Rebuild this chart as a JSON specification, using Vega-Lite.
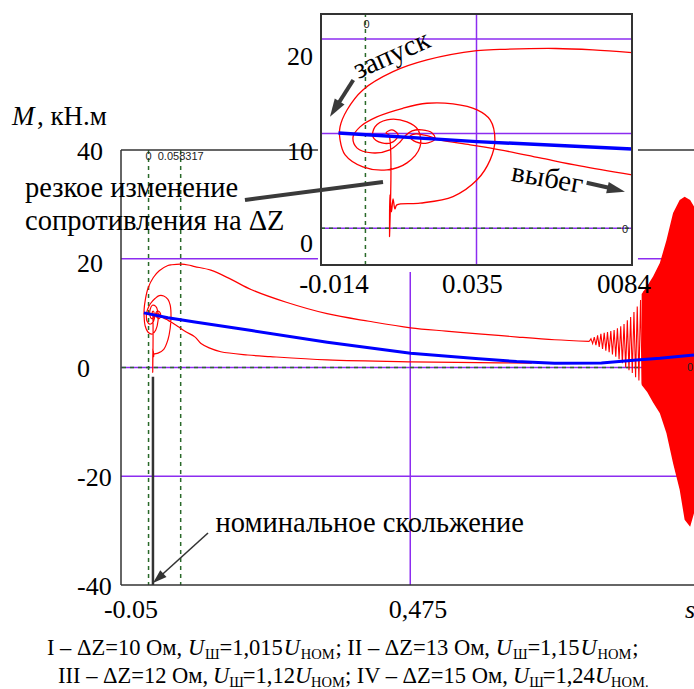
{
"$schema": "https://vega.github.io/schema/vega-lite/v6.json",
"width": 573, "height": 435,
"autosize": {"type": "none"},
"padding": {"left": 121, "top": 150, "right": 0, "bottom": 104},
"config": {"view": {"stroke": null}, "axis": {"disable": true}, "text": {"font": "Liberation Serif", "color": "#000"}},
"datasets": {
"gridH": [{"m": 20}, {"m": 0}, {"m": -20}],
"gridV": [{"s": 0.475}],
"markH": [{"m": 0}],
"markV": [{"s": 0}, {"s": 0.058317}],
"frameH": [{"m": 40}, {"m": -40}],
"frameV": [{"s": -0.05}],
"nominal": [{"s": 0.008, "m": -1.7, "m2": -40}],
"insetGridH": [{"m": 20}, {"m": 10}, {"m": 0}],
"insetGridV": [{"s": 0.035}],
"insetMarkH": [{"m": 0}],
"insetMarkV": [{"s": 0}],
"one": [{}],
"red": [
{"i":1,"s":0.800,"m":4.8},{"i":2,"s":0.737,"m":5.1},{"i":3,"s":0.670,"m":5.6},{"i":4,"s":0.599,"m":6.2},{"i":5,"s":0.540,"m":6.7},{"i":6,"s":0.4756,"m":7.3},{"i":7,"s":0.400,"m":8.5},{"i":8,"s":0.324,"m":9.9},{"i":9,"s":0.250,"m":12.0},{"i":10,"s":0.187,"m":14.3},{"i":11,"s":0.150,"m":16.2},{"i":12,"s":0.113,"m":17.9},{"i":13,"s":0.084,"m":18.56},{"i":14,"s":0.0717,"m":18.85},{"i":15,"s":0.0600,"m":19.0},{"i":16,"s":0.0424,"m":18.90},{"i":17,"s":0.0351,"m":18.77},{"i":18,"s":0.0194,"m":17.79},{"i":19,"s":0.0087,"m":16.55},{"i":20,"s":-0.0008,"m":14.62},{"i":21,"s":-0.0058,"m":12.50},{"i":22,"s":-0.0080,"m":10.71},{"i":23,"s":-0.0080,"m":9.34},{"i":24,"s":-0.0064,"m":7.75},{"i":25,"s":-0.0008,"m":6.48},{"i":26,"s":0.0068,"m":6.16},{"i":27,"s":0.0131,"m":6.90},{"i":28,"s":0.0172,"m":8.59},{"i":29,"s":0.0166,"m":10.39},{"i":30,"s":0.0131,"m":11.24},{"i":31,"s":0.0068,"m":11.45},{"i":32,"s":0.0030,"m":10.71},{"i":33,"s":0.0024,"m":9.65},{"i":34,"s":0.0052,"m":9.02},{"i":35,"s":0.0087,"m":9.12},{"i":36,"s":0.0103,"m":9.86},{"i":37,"s":0.0084,"m":10.39},{"i":38,"s":0.0065,"m":10.07},{"i":39,"s":0.0074,"m":9.86},{"i":40,"s":0.0076,"m":-0.89},{"i":41,"s":0.0077,"m":3.52},{"i":42,"s":0.0082,"m":1.72},{"i":43,"s":0.0087,"m":3.10},{"i":44,"s":0.0093,"m":2.04},{"i":45,"s":0.0099,"m":2.46},{"i":46,"s":0.0172,"m":2.64},{"i":47,"s":0.0276,"m":3.34},{"i":48,"s":0.0352,"m":5.11},{"i":49,"s":0.0393,"m":7.22},{"i":50,"s":0.0408,"m":9.33},{"i":51,"s":0.0393,"m":11.45},{"i":52,"s":0.0352,"m":12.51},{"i":53,"s":0.0276,"m":13.14},{"i":54,"s":0.0194,"m":13.21},{"i":55,"s":0.0118,"m":12.68},{"i":56,"s":0.0036,"m":11.77},{"i":57,"s":-0.0017,"m":10.71},{"i":58,"s":-0.0039,"m":9.65},{"i":59,"s":-0.0027,"m":8.49},{"i":60,"s":0.0021,"m":7.96},{"i":61,"s":0.0077,"m":8.28},{"i":62,"s":0.0109,"m":9.12},{"i":63,"s":0.0125,"m":9.75},{"i":64,"s":0.0147,"m":10.28},{"i":65,"s":0.0178,"m":10.39},{"i":66,"s":0.0210,"m":10.07},{"i":67,"s":0.0219,"m":9.44},{"i":68,"s":0.0197,"m":9.02},{"i":69,"s":0.0159,"m":9.12},{"i":70,"s":0.0140,"m":9.65},{"i":71,"s":0.0159,"m":9.97},{"i":72,"s":0.0197,"m":9.75},{"i":73,"s":0.0235,"m":9.33},{"i":74,"s":0.0330,"m":8.81},{"i":75,"s":0.0424,"m":8.28},{"i":76,"s":0.0550,"m":7.43},{"i":77,"s":0.0676,"m":6.58},{"i":78,"s":0.0840,"m":5.63},{"i":79,"s":0.0952,"m":4.4},{"i":80,"s":0.110,"m":3.6},{"i":81,"s":0.131,"m":2.9},{"i":82,"s":0.180,"m":2.3},{"i":83,"s":0.221,"m":2.0},{"i":84,"s":0.324,"m":1.4},{"i":85,"s":0.4756,"m":1.05},{"i":86,"s":0.600,"m":0.9},{"i":87,"s":0.6956,"m":0.8}
],
"osc": [
{"s":0.800,"m":4.8},{"s":0.803,"m":5.3},{"s":0.806,"m":4.4},{"s":0.809,"m":5.6},{"s":0.812,"m":4.1},{"s":0.815,"m":5.9},{"s":0.818,"m":3.8},{"s":0.821,"m":6.2},{"s":0.824,"m":3.4},{"s":0.827,"m":6.4},{"s":0.830,"m":3.1},{"s":0.833,"m":6.5},{"s":0.836,"m":2.8},{"s":0.839,"m":6.7},{"s":0.842,"m":2.4},{"s":0.845,"m":6.9},{"s":0.848,"m":2.0},{"s":0.851,"m":7.2},{"s":0.854,"m":1.5},{"s":0.857,"m":7.6},{"s":0.860,"m":0.8},{"s":0.863,"m":8.0},{"s":0.866,"m":0.0},{"s":0.869,"m":8.7},{"s":0.872,"m":-0.5},{"s":0.875,"m":9.3},{"s":0.878,"m":-1.0},{"s":0.881,"m":10.2},{"s":0.884,"m":-1.8},{"s":0.887,"m":11.2},{"s":0.890,"m":-2.4},{"s":0.893,"m":12.4},{"s":0.896,"m":-3.0},{"s":0.899,"m":14.0}
],
"blob": [
{"s":0.895,"top":13.5,"bot":-3.2},{"s":0.905,"top":15.0,"bot":-4.5},{"s":0.916,"top":16.8,"bot":-6.5},{"s":0.928,"top":19.2,"bot":-8.4},{"s":0.940,"top":23.4,"bot":-12.1},{"s":0.952,"top":28.4,"bot":-17.6},{"s":0.964,"top":30.8,"bot":-22.5},{"s":0.973,"top":31.4,"bot":-28.0},{"s":0.983,"top":30.8,"bot":-29.3},{"s":0.990,"top":29.6,"bot":-26.8}
],
"blue": [
{"s":-0.0085,"m":10.05},{"s":0.0351,"m":9.15},{"s":0.084,"m":8.38},{"s":0.187,"m":6.80},{"s":0.3244,"m":4.66},{"s":0.4756,"m":2.64},{"s":0.5994,"m":1.59},{"s":0.6681,"m":1.10},{"s":0.7368,"m":0.80},{"s":0.822,"m":0.82},{"s":0.886,"m":1.4},{"s":0.928,"m":1.7},{"s":0.99,"m":2.3}
],
"thickLines": [
{"s":0.1750,"m":30.80,"s2":0.4255,"m2":34.11},
{"s":0.3716,"m":52.87,"s2":0.3456,"m2":48.74},
{"s":0.7952,"m":33.99,"s2":0.8375,"m2":33.01}
],
"thinLines": [{"s":0.1079,"m":-30.44,"s2":0.0208,"m2":-38.44}],
"headNom": [{"s":0.0081,"m":-39.63}],
"headZap": [{"s":0.3293,"m":46.12}],
"headVyb": [{"s":0.8647,"m":32.33}],
"annNormal": [
{"s":-0.2242,"m":31.36,"t":"резкое изменение"},
{"s":-0.2242,"m":25.29,"t":"сопротивления на ΔZ"},
{"s":0.1215,"m":-30.2,"t":"номинальное скольжение"}
],
"annUnit": [{"s":-0.2025,"m":44.6,"t":", кН.м"}],
"annItalic": [{"s":-0.2478,"m":44.6,"t":"M"}],
"yLabels": [
{"s":-0.1299,"m":39.72,"t":"40"},{"s":-0.1299,"m":19.03,"t":"20"},{"s":-0.1299,"m":-0.28,"t":"0"},{"s":-0.1299,"m":-20.32,"t":"-20"},{"s":-0.1299,"m":-40.37,"t":"-40"}
],
"xLabels": [{"s":-0.0319,"m":-44.6,"t":"-0.05"},{"s":0.489,"m":-44.6,"t":"0,475"}],
"sLabel": [{"s":0.9827,"m":-44.6,"t":"s"}],
"insetYLabels": [{"s":0.2985,"m":57.1,"t":"20"},{"s":0.2985,"m":39.63,"t":"10"},{"s":0.2985,"m":22.71,"t":"0"}],
"insetXLabels": [{"s":0.3366,"m":15.17,"t":"-0.014"},{"s":0.5879,"m":15.17,"t":"0.035"},{"s":0.8629,"m":15.17,"t":"0084"}],
"markerLabels": [
{"s":0.0,"m":38.71,"t":"0"},{"s":0.058317,"m":38.71,"t":"0.058317"},{"s":0.3959,"m":62.99,"t":"0"},{"s":0.8647,"m":25.29,"t":"0"},{"s":0.9827,"m":-0.1,"t":"0"}
],
"zapusk": [{"s":0.4409,"m":57.56,"t":"запуск"}],
"vybeg": [{"s":0.724,"m":34.8,"t":"выбег"}],
"capN": [
{"s":-0.1843,"m":-52.87,"t":"I – ΔZ=10 Ом,"},
{"s":0.1288,"m":-52.87,"t":"=1,015"},
{"s":0.3393,"m":-52.87,"t":"; II – ΔZ=13 Ом,"},
{"s":0.6876,"m":-52.87,"t":"=1,15"},
{"s":0.8778,"m":-52.87,"t":";"},
{"s":-0.1643,"m":-58.02,"t":"III – ΔZ=12 Ом,"},
{"s":0.1711,"m":-58.02,"t":"=1,12"},
{"s":0.3564,"m":-58.02,"t":"; IV – ΔZ=15 Ом,"},
{"s":0.7155,"m":-58.02,"t":"=1,24"}
],
"capU": [
{"s":0.0714,"m":-52.87,"t":"U"},{"s":0.2453,"m":-52.87,"t":"U"},{"s":0.6302,"m":-52.87,"t":"U"},{"s":0.7838,"m":-52.87,"t":"U"},
{"s":0.1170,"m":-58.02,"t":"U"},{"s":0.2656,"m":-58.02,"t":"U"},{"s":0.6614,"m":-58.02,"t":"U"},{"s":0.8101,"m":-58.02,"t":"U"}
],
"capSub": [
{"s":0.1025,"m":-53.61,"t":"Ш"},{"s":0.2763,"m":-53.61,"t":"НОМ"},{"s":0.6613,"m":-53.61,"t":"Ш"},{"s":0.8148,"m":-53.61,"t":"НОМ"},
{"s":0.1464,"m":-58.76,"t":"Ш"},{"s":0.2950,"m":-58.76,"t":"НОМ"},{"s":0.6908,"m":-58.76,"t":"Ш"},{"s":0.8395,"m":-58.76,"t":"НОМ."}
]
},
"resolve": {"scale": {"x": "independent", "y": "independent"}},
"layer": [
{
"layer": [
{"data": {"name": "gridH"}, "mark": {"type": "rule", "color": "#8c2cf0", "strokeWidth": 1.5},
 "encoding": {"y": {"field": "m", "type": "quantitative", "scale": {"domain": [-40, 40], "nice": false, "zero": false}}}},
{"data": {"name": "gridV"}, "mark": {"type": "rule", "color": "#8c2cf0", "strokeWidth": 1.5},
 "encoding": {"x": {"field": "s", "type": "quantitative", "scale": {"domain": [-0.05, 0.99], "nice": false, "zero": false}}}},
{"data": {"name": "markH"}, "mark": {"type": "rule", "color": "#2a6a2a", "strokeWidth": 1.5, "strokeDash": [4, 4]},
 "encoding": {"y": {"field": "m", "type": "quantitative", "scale": {"domain": [-40, 40], "nice": false, "zero": false}}}},
{"data": {"name": "markV"}, "mark": {"type": "rule", "color": "#2a6a2a", "strokeWidth": 1.5, "strokeDash": [4, 4]},
 "encoding": {"x": {"field": "s", "type": "quantitative", "scale": {"domain": [-0.05, 0.99], "nice": false, "zero": false}}}},
{"data": {"name": "frameH"}, "mark": {"type": "rule", "color": "#333", "strokeWidth": 1.5},
 "encoding": {"y": {"field": "m", "type": "quantitative", "scale": {"domain": [-40, 40], "nice": false, "zero": false}}}},
{"data": {"name": "frameV"}, "mark": {"type": "rule", "color": "#333", "strokeWidth": 1.5},
 "encoding": {"x": {"field": "s", "type": "quantitative", "scale": {"domain": [-0.05, 0.99], "nice": false, "zero": false}}}},
{"data": {"name": "nominal"}, "mark": {"type": "rule", "color": "#333", "strokeWidth": 2.5},
 "encoding": {"x": {"field": "s", "type": "quantitative", "scale": {"domain": [-0.05, 0.99], "nice": false, "zero": false}},
  "y": {"field": "m", "type": "quantitative", "scale": {"domain": [-40, 40], "nice": false, "zero": false}}, "y2": {"field": "m2"}}},
{"data": {"name": "blob"}, "mark": {"type": "area", "color": "#ff0000", "opacity": 1},
 "encoding": {"x": {"field": "s", "type": "quantitative", "scale": {"domain": [-0.05, 0.99], "nice": false, "zero": false}},
  "y": {"field": "top", "type": "quantitative", "scale": {"domain": [-40, 40], "nice": false, "zero": false}}, "y2": {"field": "bot"}}},
{"data": {"name": "osc"}, "mark": {"type": "line", "color": "#ff0000", "strokeWidth": 1.1},
 "encoding": {"x": {"field": "s", "type": "quantitative", "scale": {"domain": [-0.05, 0.99], "nice": false, "zero": false}},
  "y": {"field": "m", "type": "quantitative", "scale": {"domain": [-40, 40], "nice": false, "zero": false}}}},
{"data": {"name": "red"}, "mark": {"type": "line", "color": "#ff0000", "strokeWidth": 1.2, "interpolate": "catmull-rom"},
 "encoding": {"x": {"field": "s", "type": "quantitative", "scale": {"domain": [-0.05, 0.99], "nice": false, "zero": false}},
  "y": {"field": "m", "type": "quantitative", "scale": {"domain": [-40, 40], "nice": false, "zero": false}}, "order": {"field": "i"}}},
{"data": {"name": "blue"}, "mark": {"type": "line", "color": "#0000ff", "strokeWidth": 3},
 "encoding": {"x": {"field": "s", "type": "quantitative", "scale": {"domain": [-0.05, 0.99], "nice": false, "zero": false}},
  "y": {"field": "m", "type": "quantitative", "scale": {"domain": [-40, 40], "nice": false, "zero": false}}}},
{"data": {"name": "one"}, "mark": {"type": "rect", "color": "#ffffff", "opacity": 1},
 "encoding": {"x": {"datum": 0.3075, "type": "quantitative", "scale": {"domain": [-0.05, 0.99], "nice": false, "zero": false}}, "x2": {"datum": 0.8883},
  "y": {"datum": 17.56, "type": "quantitative", "scale": {"domain": [-40, 40], "nice": false, "zero": false}}, "y2": {"datum": 67.6}}}
]
},
{
"layer": [
{"data": {"name": "insetGridH"}, "mark": {"type": "rule", "color": "#8c2cf0", "strokeWidth": 1.5},
 "encoding": {"y": {"field": "m", "type": "quantitative", "scale": {"domain": [-3.9, 22.65], "range": [115, -136], "nice": false, "zero": false}},
  "x": {"datum": -0.014, "type": "quantitative", "scale": {"domain": [-0.014, 0.084], "range": [200, 511], "nice": false, "zero": false}}, "x2": {"datum": 0.084}}},
{"data": {"name": "insetGridV"}, "mark": {"type": "rule", "color": "#8c2cf0", "strokeWidth": 1.5},
 "encoding": {"x": {"field": "s", "type": "quantitative", "scale": {"domain": [-0.014, 0.084], "range": [200, 511], "nice": false, "zero": false}},
  "y": {"datum": -3.9, "type": "quantitative", "scale": {"domain": [-3.9, 22.65], "range": [115, -136], "nice": false, "zero": false}}, "y2": {"datum": 22.65}}},
{"data": {"name": "insetMarkH"}, "mark": {"type": "rule", "color": "#2a6a2a", "strokeWidth": 1.5, "strokeDash": [4, 4]},
 "encoding": {"y": {"field": "m", "type": "quantitative", "scale": {"domain": [-3.9, 22.65], "range": [115, -136], "nice": false, "zero": false}},
  "x": {"datum": -0.014, "type": "quantitative", "scale": {"domain": [-0.014, 0.084], "range": [200, 511], "nice": false, "zero": false}}, "x2": {"datum": 0.084}}},
{"data": {"name": "insetMarkV"}, "mark": {"type": "rule", "color": "#2a6a2a", "strokeWidth": 1.5, "strokeDash": [4, 4]},
 "encoding": {"x": {"field": "s", "type": "quantitative", "scale": {"domain": [-0.014, 0.084], "range": [200, 511], "nice": false, "zero": false}},
  "y": {"datum": -3.9, "type": "quantitative", "scale": {"domain": [-3.9, 22.65], "range": [115, -136], "nice": false, "zero": false}}, "y2": {"datum": 22.65}}},
{"data": {"name": "red"}, "transform": [{"filter": "datum.s <= 0.0841"}], "mark": {"type": "line", "color": "#ff0000", "strokeWidth": 1.3, "interpolate": "catmull-rom"},
 "encoding": {"x": {"field": "s", "type": "quantitative", "scale": {"domain": [-0.014, 0.084], "range": [200, 511], "nice": false, "zero": false}},
  "y": {"field": "m", "type": "quantitative", "scale": {"domain": [-3.9, 22.65], "range": [115, -136], "nice": false, "zero": false}}, "order": {"field": "i"}}},
{"data": {"name": "blue"}, "transform": [{"filter": "datum.s <= 0.0841"}], "mark": {"type": "line", "color": "#0000ff", "strokeWidth": 3.5},
 "encoding": {"x": {"field": "s", "type": "quantitative", "scale": {"domain": [-0.014, 0.084], "range": [200, 511], "nice": false, "zero": false}},
  "y": {"field": "m", "type": "quantitative", "scale": {"domain": [-3.9, 22.65], "range": [115, -136], "nice": false, "zero": false}}}},
{"data": {"name": "one"}, "mark": {"type": "rect", "filled": false, "color": "#333", "strokeWidth": 2},
 "encoding": {"x": {"datum": -0.014, "type": "quantitative", "scale": {"domain": [-0.014, 0.084], "range": [200, 511], "nice": false, "zero": false}}, "x2": {"datum": 0.084},
  "y": {"datum": -3.9, "type": "quantitative", "scale": {"domain": [-3.9, 22.65], "range": [115, -136], "nice": false, "zero": false}}, "y2": {"datum": 22.65}}}
]
},
{
"layer": [
{"data": {"name": "thickLines"}, "mark": {"type": "rule", "color": "#3a3a3a", "strokeWidth": 4},
 "encoding": {"x": {"field": "s", "type": "quantitative", "scale": {"domain": [-0.05, 0.99], "nice": false, "zero": false}}, "x2": {"field": "s2"},
  "y": {"field": "m", "type": "quantitative", "scale": {"domain": [-40, 40], "nice": false, "zero": false}}, "y2": {"field": "m2"}}},
{"data": {"name": "thinLines"}, "mark": {"type": "rule", "color": "#333", "strokeWidth": 1.6},
 "encoding": {"x": {"field": "s", "type": "quantitative", "scale": {"domain": [-0.05, 0.99], "nice": false, "zero": false}}, "x2": {"field": "s2"},
  "y": {"field": "m", "type": "quantitative", "scale": {"domain": [-40, 40], "nice": false, "zero": false}}, "y2": {"field": "m2"}}},
{"data": {"name": "headNom"}, "mark": {"type": "point", "shape": "M0,0L0.33,1L-0.33,1Z", "size": 784, "angle": 227.7, "filled": true, "color": "#333", "opacity": 1, "strokeWidth": 0},
 "encoding": {"x": {"field": "s", "type": "quantitative", "scale": {"domain": [-0.05, 0.99], "nice": false, "zero": false}},
  "y": {"field": "m", "type": "quantitative", "scale": {"domain": [-40, 40], "nice": false, "zero": false}}}},
{"data": {"name": "headZap"}, "mark": {"type": "point", "shape": "M0,0L0.32,1L-0.32,1Z", "size": 1296, "angle": 212.4, "filled": true, "color": "#3a3a3a", "opacity": 1, "strokeWidth": 0},
 "encoding": {"x": {"field": "s", "type": "quantitative", "scale": {"domain": [-0.05, 0.99], "nice": false, "zero": false}},
  "y": {"field": "m", "type": "quantitative", "scale": {"domain": [-40, 40], "nice": false, "zero": false}}}},
{"data": {"name": "headVyb"}, "mark": {"type": "point", "shape": "M0,0L0.32,1L-0.32,1Z", "size": 1296, "angle": 103.2, "filled": true, "color": "#3a3a3a", "opacity": 1, "strokeWidth": 0},
 "encoding": {"x": {"field": "s", "type": "quantitative", "scale": {"domain": [-0.05, 0.99], "nice": false, "zero": false}},
  "y": {"field": "m", "type": "quantitative", "scale": {"domain": [-40, 40], "nice": false, "zero": false}}}},
{"data": {"name": "annNormal"}, "mark": {"type": "text", "font": "Liberation Serif", "fontSize": 28.5, "align": "left", "baseline": "alphabetic"},
 "encoding": {"x": {"field": "s", "type": "quantitative", "scale": {"domain": [-0.05, 0.99], "nice": false, "zero": false}},
  "y": {"field": "m", "type": "quantitative", "scale": {"domain": [-40, 40], "nice": false, "zero": false}}, "text": {"field": "t"}}},
{"data": {"name": "annUnit"}, "mark": {"type": "text", "font": "Liberation Serif", "fontSize": 27, "align": "left", "baseline": "alphabetic"},
 "encoding": {"x": {"field": "s", "type": "quantitative", "scale": {"domain": [-0.05, 0.99], "nice": false, "zero": false}},
  "y": {"field": "m", "type": "quantitative", "scale": {"domain": [-40, 40], "nice": false, "zero": false}}, "text": {"field": "t"}}},
{"data": {"name": "annItalic"}, "mark": {"type": "text", "font": "Liberation Serif", "fontSize": 27, "fontStyle": "italic", "align": "left", "baseline": "alphabetic"},
 "encoding": {"x": {"field": "s", "type": "quantitative", "scale": {"domain": [-0.05, 0.99], "nice": false, "zero": false}},
  "y": {"field": "m", "type": "quantitative", "scale": {"domain": [-40, 40], "nice": false, "zero": false}}, "text": {"field": "t"}}},
{"data": {"name": "yLabels"}, "mark": {"type": "text", "font": "Liberation Serif", "fontSize": 26, "align": "left", "baseline": "middle"},
 "encoding": {"x": {"field": "s", "type": "quantitative", "scale": {"domain": [-0.05, 0.99], "nice": false, "zero": false}},
  "y": {"field": "m", "type": "quantitative", "scale": {"domain": [-40, 40], "nice": false, "zero": false}}, "text": {"field": "t"}}},
{"data": {"name": "xLabels"}, "mark": {"type": "text", "font": "Liberation Serif", "fontSize": 26, "align": "center", "baseline": "middle"},
 "encoding": {"x": {"field": "s", "type": "quantitative", "scale": {"domain": [-0.05, 0.99], "nice": false, "zero": false}},
  "y": {"field": "m", "type": "quantitative", "scale": {"domain": [-40, 40], "nice": false, "zero": false}}, "text": {"field": "t"}}},
{"data": {"name": "sLabel"}, "mark": {"type": "text", "font": "Liberation Serif", "fontSize": 26, "fontStyle": "italic", "align": "center", "baseline": "middle"},
 "encoding": {"x": {"field": "s", "type": "quantitative", "scale": {"domain": [-0.05, 0.99], "nice": false, "zero": false}},
  "y": {"field": "m", "type": "quantitative", "scale": {"domain": [-40, 40], "nice": false, "zero": false}}, "text": {"field": "t"}}},
{"data": {"name": "insetYLabels"}, "mark": {"type": "text", "font": "Liberation Serif", "fontSize": 26, "align": "right", "baseline": "middle"},
 "encoding": {"x": {"field": "s", "type": "quantitative", "scale": {"domain": [-0.05, 0.99], "nice": false, "zero": false}},
  "y": {"field": "m", "type": "quantitative", "scale": {"domain": [-40, 40], "nice": false, "zero": false}}, "text": {"field": "t"}}},
{"data": {"name": "insetXLabels"}, "mark": {"type": "text", "font": "Liberation Serif", "fontSize": 27, "align": "center", "baseline": "middle"},
 "encoding": {"x": {"field": "s", "type": "quantitative", "scale": {"domain": [-0.05, 0.99], "nice": false, "zero": false}},
  "y": {"field": "m", "type": "quantitative", "scale": {"domain": [-40, 40], "nice": false, "zero": false}}, "text": {"field": "t"}}},
{"data": {"name": "markerLabels"}, "mark": {"type": "text", "font": "Liberation Sans", "fontSize": 11, "color": "#222", "align": "center", "baseline": "middle"},
 "encoding": {"x": {"field": "s", "type": "quantitative", "scale": {"domain": [-0.05, 0.99], "nice": false, "zero": false}},
  "y": {"field": "m", "type": "quantitative", "scale": {"domain": [-40, 40], "nice": false, "zero": false}}, "text": {"field": "t"}}},
{"data": {"name": "zapusk"}, "mark": {"type": "text", "font": "Liberation Serif", "fontSize": 29, "angle": 336, "align": "center", "baseline": "middle"},
 "encoding": {"x": {"field": "s", "type": "quantitative", "scale": {"domain": [-0.05, 0.99], "nice": false, "zero": false}},
  "y": {"field": "m", "type": "quantitative", "scale": {"domain": [-40, 40], "nice": false, "zero": false}}, "text": {"field": "t"}}},
{"data": {"name": "vybeg"}, "mark": {"type": "text", "font": "Liberation Serif", "fontSize": 29, "angle": 10, "align": "center", "baseline": "middle"},
 "encoding": {"x": {"field": "s", "type": "quantitative", "scale": {"domain": [-0.05, 0.99], "nice": false, "zero": false}},
  "y": {"field": "m", "type": "quantitative", "scale": {"domain": [-40, 40], "nice": false, "zero": false}}, "text": {"field": "t"}}},
{"data": {"name": "capN"}, "mark": {"type": "text", "font": "Liberation Serif", "fontSize": 22.5, "align": "left", "baseline": "alphabetic"},
 "encoding": {"x": {"field": "s", "type": "quantitative", "scale": {"domain": [-0.05, 0.99], "nice": false, "zero": false}},
  "y": {"field": "m", "type": "quantitative", "scale": {"domain": [-40, 40], "nice": false, "zero": false}}, "text": {"field": "t"}}},
{"data": {"name": "capU"}, "mark": {"type": "text", "font": "Liberation Serif", "fontSize": 22.5, "fontStyle": "italic", "align": "left", "baseline": "alphabetic"},
 "encoding": {"x": {"field": "s", "type": "quantitative", "scale": {"domain": [-0.05, 0.99], "nice": false, "zero": false}},
  "y": {"field": "m", "type": "quantitative", "scale": {"domain": [-40, 40], "nice": false, "zero": false}}, "text": {"field": "t"}}},
{"data": {"name": "capSub"}, "mark": {"type": "text", "font": "Liberation Serif", "fontSize": 14.5, "align": "left", "baseline": "alphabetic"},
 "encoding": {"x": {"field": "s", "type": "quantitative", "scale": {"domain": [-0.05, 0.99], "nice": false, "zero": false}},
  "y": {"field": "m", "type": "quantitative", "scale": {"domain": [-40, 40], "nice": false, "zero": false}}, "text": {"field": "t"}}}
]
}
]
}
